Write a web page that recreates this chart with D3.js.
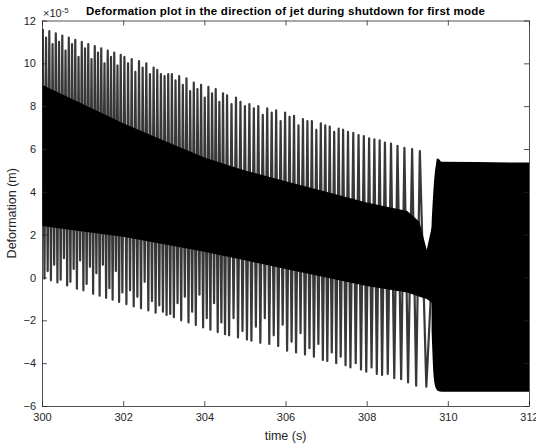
<!DOCTYPE html>
<html>
<head>
<meta charset="utf-8">
<script src="https://cdn.jsdelivr.net/npm/d3@7"></script>
<style>
  body { margin: 0; background: #fff; }
  svg { display: block; font-family: "Liberation Sans", Arial, sans-serif; }
  .axis path, .axis line { stroke: #262626; stroke-width: 0.8; }
  .axis text { fill: #262626; font-size: 11px; font-family: "Liberation Sans", Arial, sans-serif; }
</style>
</head>
<body>
<script>
// tick labels
const xTicks = [300, 302, 304, 306, 308, 310, 312],
    yTicks = [-6, -4, -2, 0, 2, 4, 6, 8, 10, 12];

// oscillation peaks (time s, deformation x1e-5 m)
const peakT = [300.02,300.10,300.18,300.26,300.34,300.42,300.50,300.58,300.66,300.74,300.82,300.90,300.98,
    301.06,301.14,301.22,301.30,301.38,301.46,301.54,301.62,301.70,301.78,301.86,301.94,
    302.03,302.12,302.21,302.30,302.39,302.48,302.57,302.66,302.75,302.84,302.93,303.02,303.11,303.20,
    303.29,303.38,303.47,303.56,303.65,303.74,303.83,303.92,304.01,304.10,304.19,304.28,304.37,304.46,
    304.56,304.67,304.78,304.89,305.00,305.11,305.22,305.33,305.44,305.55,305.66,305.77,305.88,305.99,
    306.10,306.21,306.32,306.43,306.54,306.65,306.76,306.87,306.98,307.09,307.20,307.31,307.42,
    307.54,307.67,307.80,307.93,308.06,308.19,308.32,308.45,308.60,308.76,308.93,309.12,309.31,309.75],
  peakV = [11.6,11.2,11.5,10.9,11.4,11.0,11.3,10.6,11.2,10.9,11.1,10.3,11.0,
    10.7,10.9,10.2,10.8,10.5,10.7,10.0,10.6,10.3,10.5,9.9,10.4,
    10.3,10.0,10.2,9.6,10.1,9.8,10.0,9.5,9.8,9.7,9.5,9.4,9.5,9.5,
    9.2,9.4,9.0,9.3,8.7,9.1,8.8,9.0,8.4,8.9,8.6,8.8,8.2,8.6,
    8.5,8.1,8.4,8.2,8.0,8.1,7.9,8.0,7.6,7.9,7.7,7.8,7.3,7.7,
    7.5,7.55,7.1,7.4,7.3,7.3,6.9,7.2,7.1,7.05,6.8,6.95,6.9,
    6.8,6.75,6.65,6.6,6.5,6.45,6.4,6.3,6.25,6.15,6.05,6.0,5.9,5.55];

// oscillation troughs
const troughT = [300.06,300.14,300.22,300.30,300.38,300.46,300.54,300.62,300.70,300.78,300.86,300.94,301.02,
    301.10,301.18,301.26,301.34,301.42,301.50,301.58,301.66,301.74,301.82,301.90,301.98,
    302.08,302.17,302.26,302.35,302.44,302.53,302.62,302.71,302.80,302.89,302.98,303.07,303.16,303.25,
    303.34,303.43,303.52,303.61,303.70,303.79,303.88,303.97,304.06,304.15,304.24,304.33,304.42,304.51,
    304.61,304.72,304.83,304.94,305.05,305.16,305.27,305.38,305.49,305.60,305.71,305.82,305.93,306.04,
    306.15,306.26,306.37,306.48,306.59,306.70,306.81,306.92,307.03,307.14,307.25,307.36,307.48,
    307.60,307.73,307.86,307.99,308.12,308.25,308.38,308.52,308.68,308.85,309.02,309.22,309.47],
  troughV = [-0.05,0.3,-0.13,0.6,-0.23,-0.1,0.9,-0.37,-0.2,0.4,-0.52,0.8,-0.6,
    -0.3,0.5,-0.76,0.2,-0.85,0.6,-0.95,-0.5,-1.04,0.3,-1.14,-0.7,
    -1.25,-0.6,-1.35,-0.9,-1.44,-0.2,-1.54,-1.1,-1.64,-1.3,-1.6,-1.75,-1.7,-1.85,
    -1.2,-2.0,-0.9,-2.1,-1.6,-2.22,-0.8,-2.33,-1.9,-2.44,-1.2,-2.55,-2.1,-2.65,
    -2.7,-1.9,-2.8,-2.5,-2.9,-2.95,-2.3,-3.05,-1.9,-3.1,-2.7,-3.2,-2.2,-3.42,
    -3.0,-3.5,-2.6,-3.6,-3.3,-3.7,-3.1,-3.85,-3.9,-3.5,-4.0,-3.7,-4.1,
    -4.2,-4.0,-4.3,-4.4,-4.2,-4.5,-4.55,-4.5,-4.7,-4.75,-4.9,-5.05,-5.1];

// dense solid core of the signal
const coreT = [300, 301, 302, 303, 304, 305, 306, 307, 308, 309, 309.3, 309.48, 309.62],
    coreHi = [9.0, 8.1, 7.2, 6.4, 5.6, 5.0, 4.5, 4.0, 3.5, 3.1, 2.6, 1.3, 2.5],
    coreLo = [2.4, 2.15, 1.9, 1.55, 1.2, 0.8, 0.4, 0.0, -0.4, -0.7, -0.9, -1.0, -1.2];

// steady-state block after shutdown transient
const blockT = [309.6, 309.65, 309.7, 309.76, 309.85, 312],
    blockHi = [2.5, 4.2, 5.2, 5.55, 5.4, 5.37],
    blockLo = [-2.5, -4.6, -5.15, -5.3, -5.33, -5.33];

const W = 536, H = 445,
    mLeft = 42, mRight = 529, mTop = 20.5, mBottom = 406;

const x = d3.scaleLinear().domain([300, 312]).range([mLeft, mRight]),
    y = d3.scaleLinear().domain([-6, 12]).range([mBottom, mTop]);

const svg = d3.select("body").append("svg").attr("width", W).attr("height", H);

svg.append("defs").append("clipPath").attr("id", "clip")
    .append("rect")
    .attr("x", mLeft).attr("y", mTop)
    .attr("width", mRight - mLeft).attr("height", mBottom - mTop);

const plot = svg.append("g").attr("clip-path", "url(#clip)");

// zigzag signal through peaks and troughs
const pts = peakT.map((t, i) => ({t: t, v: peakV[i]}))
    .concat(troughT.map((t, i) => ({t: t, v: troughV[i]})))
    .sort((a, b) => a.t - b.t);

const line = d3.line().x(d => x(d.t)).y(d => y(d.v));

plot.append("path")
    .attr("d", line(pts))
    .attr("fill", "none")
    .attr("stroke", "#383838")
    .attr("stroke-width", 2.2)
    .attr("stroke-linejoin", "round");

const area = d3.area().x(d => x(d.t)).y0(d => y(d.lo)).y1(d => y(d.hi));

plot.append("path")
    .attr("d", area(coreT.map((t, i) => ({t: t, hi: coreHi[i], lo: coreLo[i]}))))
    .attr("fill", "#000");

plot.append("path")
    .attr("d", area.curve(d3.curveMonotoneX)(blockT.map((t, i) => ({t: t, hi: blockHi[i], lo: blockLo[i]}))))
    .attr("fill", "#000");

// axes, matlab style ticks pointing in
svg.append("g").attr("class", "axis")
    .attr("transform", "translate(0," + mBottom + ")")
    .call(d3.axisBottom(x).tickValues(xTicks).tickSize(-5).tickSizeOuter(0).tickPadding(7));

svg.append("g").attr("class", "axis")
    .attr("transform", "translate(0," + mTop + ")")
    .call(d3.axisTop(x).tickValues(xTicks).tickSize(-5).tickSizeOuter(0).tickFormat(""));

svg.append("g").attr("class", "axis")
    .attr("transform", "translate(" + mLeft + ",0)")
    .call(d3.axisLeft(y).tickValues(yTicks).tickSize(-5).tickSizeOuter(0).tickPadding(6));

svg.append("g").attr("class", "axis")
    .attr("transform", "translate(" + mRight + ",0)")
    .call(d3.axisRight(y).tickValues(yTicks).tickSize(-5).tickSizeOuter(0).tickFormat(""));

// exponent
const ex = svg.append("text")
    .attr("x", mLeft + 1).attr("y", 17)
    .attr("fill", "#262626").attr("font-size", "11px");
ex.append("tspan").text("\u00d710");
ex.append("tspan").attr("dy", -4).attr("font-size", "8px").text("-5");

// title and labels
svg.append("text")
    .attr("x", 86).attr("y", 15)
    .attr("font-weight", "bold")
    .attr("font-size", "11.5px")
    .attr("textLength", 399)
    .attr("lengthAdjust", "spacing")
    .text("Deformation plot in the direction of jet during shutdown for first mode");

svg.append("text")
    .attr("x", (mLeft + mRight) / 2).attr("y", 440)
    .attr("text-anchor", "middle")
    .attr("fill", "#262626")
    .attr("font-size", "12.5px")
    .text("time (s)");

svg.append("text")
    .attr("transform", "translate(16," + (mTop + mBottom) / 2 + ") rotate(-90)")
    .attr("text-anchor", "middle")
    .attr("fill", "#262626")
    .attr("font-size", "12.5px")
    .text("Deformation (m)");
</script>
</body>
</html>
